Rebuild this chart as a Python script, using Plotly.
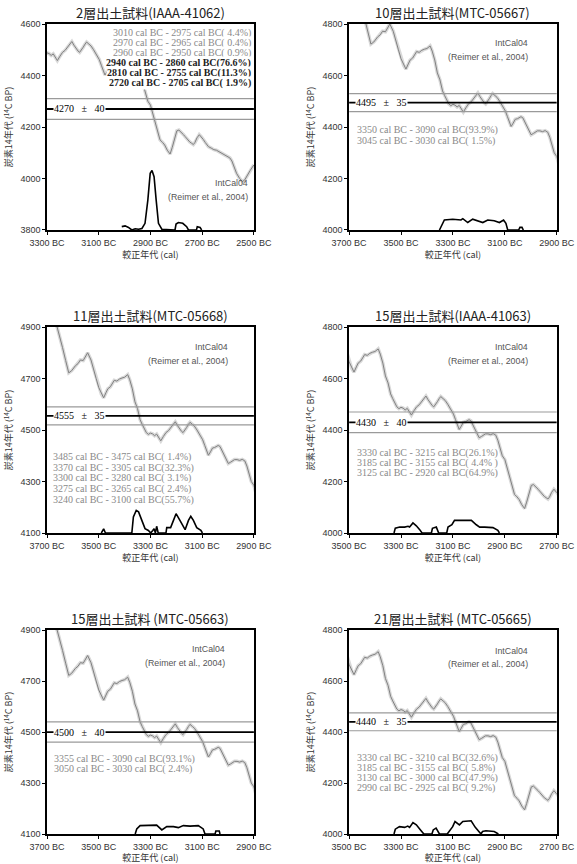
import plotly.graph_objects as go

# IntCal04 calibration curve (cal BC, 14C BP)
cal_bc = [3690, 3675, 3661, 3650, 3640, 3628, 3616, 3605, 3590, 3580, 3571, 3560, 3550, 3543,
          3530, 3520, 3510, 3500, 3490, 3481, 3472, 3465, 3455, 3440, 3430, 3420, 3410, 3400,
          3388, 3380, 3370, 3360, 3350, 3340, 3332, 3324, 3316, 3308, 3300, 3292, 3284, 3276,
          3268, 3260, 3250, 3240, 3230, 3220, 3212, 3204, 3196, 3188, 3180, 3174, 3166, 3160,
          3153, 3147, 3138, 3130, 3120, 3108, 3098, 3090, 3082, 3076, 3068, 3060, 3052, 3044,
          3038, 3031, 3022, 3015, 3006, 2999, 2990, 2985, 2975, 2965, 2955, 2945, 2935, 2927,
          2918, 2910, 2900, 2888, 2876, 2863, 2853, 2845, 2835, 2824, 2816, 2810, 2804, 2798,
          2790, 2780, 2772, 2766, 2756, 2748, 2741, 2734, 2728, 2720, 2711, 2703, 2696, 2688,
          2676, 2665, 2655, 2645, 2635, 2624, 2613, 2603, 2593, 2585, 2578, 2567, 2555, 2544,
          2535, 2525, 2515, 2500]
cal_bp = [4960, 4935, 4900, 4862, 4820, 4770, 4722, 4730, 4750, 4758, 4772, 4770, 4786, 4800,
          4772, 4740, 4700, 4665, 4640, 4625, 4645, 4660, 4668, 4693, 4690, 4698, 4702, 4705,
          4715, 4695, 4660, 4610, 4583, 4540, 4522, 4505, 4490, 4483, 4488, 4485, 4478, 4484,
          4470, 4458, 4475, 4490, 4498, 4510, 4520, 4532, 4518, 4505, 4495, 4490, 4500, 4510,
          4522, 4530, 4522, 4515, 4500, 4480, 4462, 4440, 4418, 4402, 4415, 4430, 4432, 4437,
          4440, 4436, 4418, 4400, 4382, 4370, 4375, 4378, 4385, 4385, 4382, 4386, 4380, 4360,
          4330, 4300, 4285, 4240, 4195, 4150, 4140, 4130, 4110, 4095, 4120, 4140, 4165, 4185,
          4188, 4180, 4170, 4163, 4150, 4142, 4137, 4132, 4140, 4158, 4170, 4162, 4152, 4140,
          4124, 4118, 4112, 4110, 4104, 4098, 4090, 4086, 4080, 4068, 4050, 4020, 4000, 3988,
          3995, 4010, 4030, 4053]

# sample panels
titles = ["2層出土試料(IAAA-41062)", "10層出土試料(MTC-05667)", "11層出土試料(MTC-05668)",
          "15層出土試料(IAAA-41063)", "15層出土試料 (MTC-05663)", "21層出土試料 (MTC-05665)"]
x_start = [3300, 3700, 3700, 3500, 3700, 3500]
x_end = [2500, 2900, 2900, 2700, 2900, 2700]
y_low = [3800, 4000, 4100, 4000, 4100, 4000]
y_high = [4600, 4800, 4900, 4800, 4900, 4800]
means = [4270, 4495, 4555, 4430, 4500, 4440]
sigmas = [40, 35, 35, 40, 40, 35]

# calibrated probability distributions (cal BC, level on the 14C axis)
dist1_x = [3011, 2998, 2985, 2972, 2959, 2946, 2933, 2921, 2910, 2901, 2894, 2886, 2878, 2869,
           2856, 2810, 2805, 2801, 2792, 2775, 2760, 2753, 2722, 2719, 2708, 2702]
dist1_y = [3813, 3816, 3810, 3800, 3805, 3803, 3806, 3826, 3917, 4020, 4031, 4007, 3917, 3826,
           3803, 3800, 3800, 3823, 3829, 3826, 3813, 3800, 3800, 3813, 3810, 3800]
dist2_x = [3352, 3333, 3301, 3269, 3262, 3243, 3224, 3205, 3185, 3166, 3141, 3121, 3105, 3096,
           3089, 3047, 3042, 3034, 3029]
dist2_y = [4000, 4039, 4042, 4039, 4044, 4029, 4042, 4036, 4029, 4039, 4036, 4029, 4039, 4026,
           4000, 4000, 4010, 4010, 4000]
dist3_x = [3490, 3481, 3474, 3372, 3366, 3355, 3346, 3333, 3321, 3308, 3299, 3291, 3286, 3281,
           3276, 3270, 3240, 3237, 3222, 3211, 3201, 3186, 3166, 3153, 3144, 3134, 3121, 3105, 3099]
dist3_y = [4100, 4116, 4100, 4100, 4162, 4188, 4182, 4149, 4117, 4110, 4100, 4110, 4117, 4100,
           4126, 4100, 4100, 4121, 4121, 4149, 4175, 4149, 4113, 4149, 4165, 4149, 4121, 4110, 4100]
dist4_x = [3327, 3322, 3305, 3286, 3273, 3267, 3254, 3241, 3228, 3219, 3183, 3179, 3164, 3155,
           3124, 3119, 3104, 3094, 3068, 3029, 3010, 2997, 2978, 2946, 2927, 2921]
dist4_y = [4000, 4019, 4023, 4023, 4026, 4023, 4039, 4028, 4013, 4000, 4000, 4018, 4023, 4000,
           4000, 4023, 4032, 4049, 4049, 4049, 4032, 4023, 4023, 4021, 4010, 4000]
dist5_x = [3359, 3353, 3340, 3301, 3276, 3256, 3237, 3211, 3192, 3173, 3147, 3115, 3096, 3089,
           3050, 3047, 3034, 3031]
dist5_y = [4100, 4120, 4133, 4133, 4135, 4116, 4129, 4129, 4125, 4133, 4131, 4133, 4120, 4100,
           4100, 4112, 4112, 4100]
dist6_x = [3327, 3322, 3306, 3286, 3274, 3267, 3254, 3241, 3225, 3212, 3181, 3176, 3165, 3152,
           3122, 3113, 3101, 3092, 3075, 3062, 3030, 3014, 2998, 2992, 2986, 2973, 2941, 2928, 2925]
dist6_y = [4000, 4019, 4029, 4026, 4031, 4026, 4045, 4036, 4016, 4000, 4000, 4016, 4023, 4000,
           4000, 4013, 4029, 4049, 4036, 4049, 4052, 4026, 4006, 4000, 4010, 4013, 4010, 4003, 4000]
dist_x = [dist1_x, dist2_x, dist3_x, dist4_x, dist5_x, dist6_x]
dist_y = [dist1_y, dist2_y, dist3_y, dist4_y, dist5_y, dist6_y]

ranges1 = ["3010 cal BC - 2975 cal BC( 4.4%)", "2970 cal BC - 2965 cal BC( 0.4%)",
           "2960 cal BC - 2950 cal BC( 0.9%)", "2940 cal BC - 2860 cal BC(76.6%)",
           "2810 cal BC - 2755 cal BC(11.3%)", "2720 cal BC - 2705 cal BC( 1.9%)"]
ranges2 = ["3350 cal BC - 3090 cal BC(93.9%)", "3045 cal BC - 3030 cal BC( 1.5%)"]
ranges3 = ["3485 cal BC - 3475 cal BC( 1.4%)", "3370 cal BC - 3305 cal BC(32.3%)",
           "3300 cal BC - 3280 cal BC( 3.1%)", "3275 cal BC - 3265 cal BC( 2.4%)",
           "3240 cal BC - 3100 cal BC(55.7%)"]
ranges4 = ["3330 cal BC - 3215 cal BC(26.1%)", "3185 cal BC - 3155 cal BC( 4.4% )",
           "3125 cal BC - 2920 cal BC(64.9%)"]
ranges5 = ["3355 cal BC - 3090 cal BC(93.1%)", "3050 cal BC - 3030 cal BC( 2.4%)"]
ranges6 = ["3330 cal BC - 3210 cal BC(32.6%)", "3185 cal BC - 3155 cal BC( 5.8%)",
           "3130 cal BC - 3000 cal BC(47.9%)", "2990 cal BC - 2925 cal BC( 9.2%)"]
range_texts = [ranges1, ranges2, ranges3, ranges4, ranges5, ranges6]

# layout of the 3x2 grid (paper fractions)
col_dom = [[0.0815, 0.440], [0.605, 0.965]]
row_dom = [[0.7338, 0.9722], [0.3831, 0.6215], [0.0347, 0.2708]]
# text placement inside each panel (axis-domain fractions)
range_pos = [(0.99, 0.956, 0.0485, "right"), (0.034, 0.485, 0.053, "left"),
             (0.024, 0.369, 0.052, "left"), (0.034, 0.388, 0.049, "left"),
             (0.03, 0.37, 0.05, "left"), (0.034, 0.374, 0.049, "left")]
intcal_pos = [(0.98, 0.228), (0.87, 0.908), (0.884, 0.903), (0.87, 0.903), (0.87, 0.906),
              (0.87, 0.898)]

CURVE_HALO = "#d9d9d9"
CURVE = "#808080"
SIGMA = "#9a9a9a"
SERIF = "Liberation Serif, Times New Roman, serif"
SANS = "Liberation Sans, Arial, sans-serif"
CJK = "Noto Sans CJK JP"
SP = "&nbsp;"

fig = go.Figure()
annotations = []
for i in range(6):
    n = "" if i == 0 else str(i + 1)
    xa, ya = "x" + n, "y" + n
    r, c = divmod(i, 2)
    lo, hi = x_start[i], x_end[i]

    fig.add_trace(go.Scatter(x=cal_bc, y=cal_bp, mode="lines", xaxis=xa, yaxis=ya,
                             line=dict(color=CURVE_HALO, width=3.5), hoverinfo="skip"))
    fig.add_trace(go.Scatter(x=cal_bc, y=cal_bp, mode="lines", xaxis=xa, yaxis=ya,
                             line=dict(color=CURVE, width=1)))
    for s in (-1, 1):
        fig.add_trace(go.Scatter(x=[lo, hi], y=[means[i] + s * sigmas[i]] * 2, mode="lines",
                                 xaxis=xa, yaxis=ya, line=dict(color=SIGMA, width=1.2)))
    fig.add_trace(go.Scatter(x=[lo, hi], y=[means[i]] * 2, mode="lines", xaxis=xa, yaxis=ya,
                             line=dict(color="black", width=1.8)))
    fig.add_trace(go.Scatter(x=dist_x[i], y=dist_y[i], mode="lines", xaxis=xa, yaxis=ya,
                             line=dict(color="black", width=1.6)))

    fig.layout["xaxis" + n] = dict(
        domain=col_dom[c], anchor=ya, range=[lo, hi],
        tickvals=list(range(lo, hi - 1, -200)),
        ticktext=["%d BC" % v for v in range(lo, hi - 1, -200)],
        ticks="outside", ticklen=3, tickcolor="black", showgrid=False, zeroline=False,
        showline=True, linecolor="black", linewidth=1.5, mirror=True,
        tickfont=dict(family=SANS, size=9, color="#333"), automargin=False,
        title=dict(text="較正年代 (cal)", font=dict(family=CJK, size=9, color="#333"), standoff=3))
    fig.layout["yaxis" + n] = dict(
        domain=row_dom[r], anchor=xa, range=[y_low[i], y_high[i]], tick0=y_low[i], dtick=200,
        ticks="outside", ticklen=3, tickcolor="black", showgrid=False, zeroline=False,
        showline=True, linecolor="black", linewidth=1.5, mirror=True,
        tickfont=dict(family=SANS, size=9, color="#333"), automargin=False,
        title=dict(text="炭素14年代 (<sup>14</sup>C BP)", font=dict(family=CJK, size=9, color="#333"),
                   standoff=6))

    xd, yd = xa + " domain", ya + " domain"
    annotations.append(dict(text=titles[i], xref=xd, yref=yd, x=0.5, y=1, xanchor="center",
                            yanchor="bottom", showarrow=False, yshift=0,
                            font=dict(family=CJK, size=13, color="#222")))
    annotations.append(dict(text="%d%s ±%s %d" % (means[i], SP * 2, SP * 2, sigmas[i]),
                            xref=xd, yref=ya, x=0.03, y=means[i], xanchor="left",
                            yanchor="middle", showarrow=False, bgcolor="white", borderpad=0,
                            font=dict(family=SERIF, size=10, color="black")))
    ix, iy = intcal_pos[i]
    annotations.append(dict(text="IntCal04", xref=xd, yref=yd, x=ix, y=iy, xanchor="right",
                            yanchor="middle", showarrow=False,
                            font=dict(family=SANS, size=8.8, color="#555")))
    annotations.append(dict(text="(Reimer et al., 2004)", xref=xd, yref=yd, x=ix,
                            y=iy - 0.066, xanchor="right", yanchor="middle", showarrow=False,
                            font=dict(family=SANS, size=8.8, color="#555")))
    rx, ry, rstep, ralign = range_pos[i]
    for k, t in enumerate(range_texts[i]):
        bold = i == 0 and k >= 3
        annotations.append(dict(text="<b>%s</b>" % t if bold else t, xref=xd, yref=yd,
                                x=rx, y=ry - k * rstep, xanchor=ralign, yanchor="middle",
                                showarrow=False, borderpad=0,
                                bgcolor="white" if i == 0 else None,
                                font=dict(family=SERIF, size=10,
                                          color="#222" if bold else "#8a8a8a")))

fig.update_layout(width=577, height=864, margin=dict(l=0, r=0, t=0, b=0),
                  paper_bgcolor="white", plot_bgcolor="white", showlegend=False,
                  annotations=annotations)
fig.write_html("out.html", config={"displayModeBar": False},
               post_script="document.body.style.margin='0px';")
